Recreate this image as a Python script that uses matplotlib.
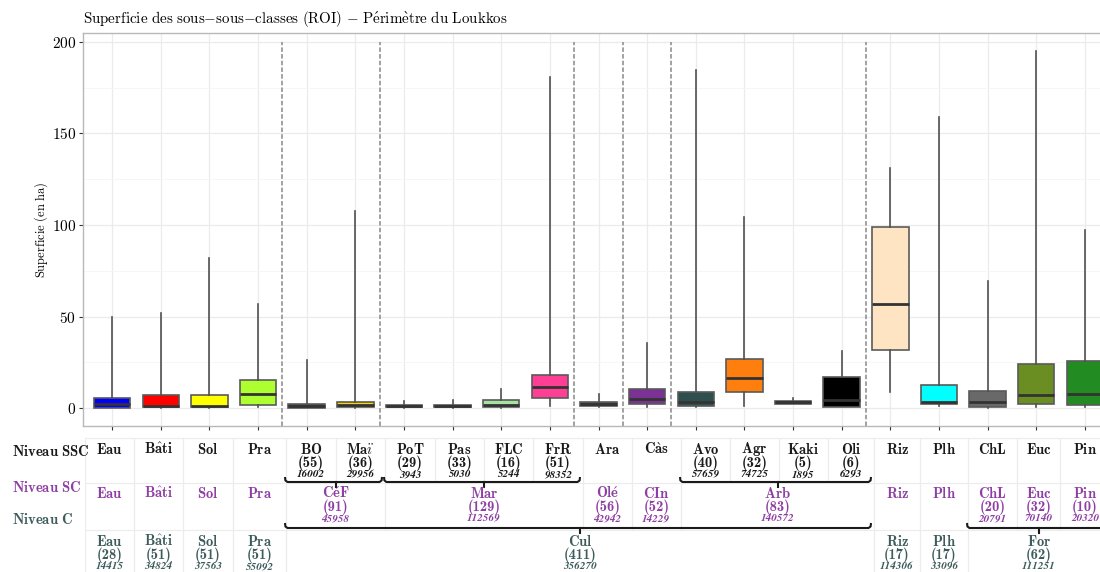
import matplotlib
matplotlib.use("Agg")
import matplotlib.pyplot as plt
from matplotlib.ticker import MultipleLocator

plt.rcParams["mathtext.fontset"] = "cm"

# Sous-sous-classes (SSC), box statistics in ha
ssc_labels = ["Eau", "Bâti", "Sol", "Pra", "BO", "Maï", "PoT", "Pas", "FLC", "FrR", "Ara",
              "Càs", "Avo", "Agr", "Kaki", "Oli", "Riz", "Plh", "ChL", "Euc", "Pin"]
whislo = [0.0, 0.1, 0.1, 0.5, 0.2, 0.1, 0.1, 0.2, 0.3, 1.2, 0.5,
          0.5, 0.7, 1.3, 2.5, 0.5, 8.7, 1.0, 0.3, 0.5, 0.6]
q1 = [0.2, 0.6, 0.5, 1.6, 0.4, 0.5, 0.5, 0.7, 0.8, 5.4, 1.1,
      2.3, 1.5, 8.9, 2.6, 0.7, 31.8, 2.3, 0.7, 2.3, 1.8]
med = [2.6, 1.4, 1.4, 7.6, 1.4, 2.0, 1.0, 1.2, 1.8, 11.8, 2.2,
       5.1, 3.3, 16.7, 3.3, 4.5, 56.9, 3.3, 3.6, 7.1, 7.8]
q3 = [5.4, 7.0, 7.5, 15.4, 2.2, 3.3, 1.6, 1.8, 4.4, 18.0, 3.3,
      10.7, 8.7, 27.0, 4.0, 17.2, 98.7, 12.7, 9.4, 24.2, 25.8]
whishi = [50.0, 52.2, 81.8, 56.7, 26.2, 107.6, 4.1, 4.4, 10.5, 180.9, 7.6,
          35.8, 184.6, 104.2, 5.4, 31.4, 131.3, 158.7, 69.6, 195.1, 97.3]
ssc_colors = ["#0000FF", "#FF0000", "#FFFF00", "#ADFF2F", "#4A3C26", "#FFD700", "#4A3A30",
              "#3C3C3C", "#A6E3A1", "#FF3E96", "#4F4040", "#7B3294", "#2F4F4F", "#FF7F0E",
              "#3C3C3C", "#000000", "#FFE4C4", "#00FFFF", "#696969", "#6B8E23", "#228B22"]
ssc_n = [None, None, None, None, 55, 36, 29, 33, 16, 51, None,
         None, 40, 32, 5, 6, None, None, None, None, None]
ssc_area = [None, None, None, None, 16002, 29956, 3943, 5030, 5244, 98352, None,
            None, 57659, 74725, 1895, 6293, None, None, None, None, None]

# Sous-classes (SC)
sc_labels = ["Eau", "Bâti", "Sol", "Pra", "CéF", "Mar", "Olé", "CIn", "Arb", "Riz", "Plh", "ChL", "Euc", "Pin"]
sc_size = [1, 1, 1, 1, 2, 4, 1, 1, 4, 1, 1, 1, 1, 1]
sc_n = [None, None, None, None, 91, 129, 56, 52, 83, None, None, 20, 32, 10]
sc_area = [None, None, None, None, 45958, 112569, 42942, 14229, 140572, None, None, 20791, 70140, 20320]

# Classes (C)
c_labels = ["Eau", "Bâti", "Sol", "Pra", "Cul", "Riz", "Plh", "For"]
c_size = [1, 1, 1, 1, 12, 1, 1, 3]
c_n = [28, 51, 51, 51, 411, 17, 17, 62]
c_area = [14415, 34824, 37563, 55092, 356270, 114306, 33096, 111251]

W, H = 1100, 572
col_edges = [85, 134, 183, 233, 286, 336, 385, 435, 484, 533, 583, 632, 681, 730,
             779, 828, 874, 920, 968, 1017, 1060, 1110]

COL_SSC = "#1a1a1a"
COL_SC = "#8E3FA3"
COL_C = "#3E5C5C"


def tex(s, style="rm"):
    swap = {"é": r"\acute{e}", "è": r"\grave{e}", "â": r"\hat{a}", "à": r"\grave{a}",
            "ï": r"\ddot{\imath}", " ": r"\ ", "-": "{-}"}
    return r"$\math" + style + "{" + "".join(swap.get(c, c) for c in s) + "}$"


fig = plt.figure(figsize=(W / 100, H / 100), dpi=100)
ax = fig.add_axes([83 / W, 1 - 426 / H, (1114 - 83) / W, (426 - 33.3) / H])

x = list(range(len(ssc_labels)))
stats = [dict(whislo=a, q1=b, med=c, q3=d, whishi=e, fliers=[])
         for a, b, c, d, e in zip(whislo, q1, med, q3, whishi)]
bp = ax.bxp(stats, positions=x, widths=0.75, patch_artist=True, showfliers=False, showcaps=False,
            boxprops=dict(edgecolor="#5a5a5a", linewidth=1.2),
            medianprops=dict(color="#333333", linewidth=2.0),
            whiskerprops=dict(color="#505050", linewidth=1.2), zorder=3)
for patch, col in zip(bp["boxes"], ssc_colors):
    patch.set_facecolor(col)

# dashed separators between the sub-classes around "Cul"
c_of_ssc = [lab for lab, k in zip(c_labels, c_size) for _ in range(k)]
sc_of_ssc = [lab for lab, k in zip(sc_labels, sc_size) for _ in range(k)]
seps = [i + 0.5 for i in range(len(x) - 1)
        if sc_of_ssc[i] != sc_of_ssc[i + 1] and "Cul" in (c_of_ssc[i], c_of_ssc[i + 1])]
ax.vlines(seps, -9.66, 200, colors="#9a9a9a", linestyles=(0, (2.5, 1.2)), linewidth=1.3, zorder=2)

ax.set_xlim(-0.6, len(x) - 0.4)
ax.set_ylim(-9.66, 204.6)
ax.set_xticks(x)
ax.set_xticklabels([])
ax.yaxis.set_minor_locator(MultipleLocator(25))
ax.set_yticks([0, 50, 100, 150, 200])
ax.set_yticklabels([tex(str(v)) for v in [0, 50, 100, 150, 200]], fontsize=11)
ax.grid(which="major", color="#ebebeb", linewidth=0.9, zorder=0)
ax.grid(which="minor", axis="y", color="#f5f5f5", linewidth=0.6, zorder=0)
ax.set_axisbelow(True)
ax.tick_params(axis="both", which="major", length=3, width=0.8, color="#333333", pad=2)
ax.tick_params(axis="y", which="minor", length=0)
for sp in ax.spines.values():
    sp.set_color("#b8b8b8")
    sp.set_linewidth(1.0)
ax.set_ylabel(tex("Superficie (en ha)"), fontsize=9, labelpad=1)
fig.text(83 / W, 1 - 19 / H, tex("Superficie des sous-sous-classes (ROI) - Périmètre du Loukkos"),
         fontsize=10.8, ha="left", va="center")

# table of the hierarchy under the plot, in pixel coordinates
tb = fig.add_axes([0, 0, 1, 1], zorder=-1)
tb.set_xlim(0, W)
tb.set_ylim(H, 0)
tb.axis("off")

row_top = [438, 483, 530]
row_bot = [483, 530, 572]
name_y = [449, 493, 541]
grid_col = "#ececec"


def draw_row(r, labels, sizes, ns, areas, colour, bracket_y=None):
    start = 0
    tb.hlines(row_top[r], col_edges[0], col_edges[-1], color=grid_col, lw=0.8)
    for lab, k, n, a in zip(labels, sizes, ns, areas):
        x0, x1 = col_edges[start], col_edges[start + k]
        xc = (x0 + x1) / 2
        tb.vlines([x0, x1], row_top[r], row_bot[r], color=grid_col, lw=0.8)
        y = name_y[r]
        tb.text(xc, y, tex(lab, "bf"), color=colour, fontsize=10.5, ha="center", va="center")
        if n is not None:
            tb.text(xc, y + 14, "(%d)" % n, color=colour, fontsize=10.5, family="cmb10",
                    ha="center", va="center")
            tb.text(xc, y + 25.5, str(a), color=colour, fontsize=8, family="STIXGeneral",
                    style="italic", weight="bold", ha="center", va="center")
        if bracket_y is not None and k > 1:
            bx0, bx1 = x0 - 1, x1 - 3
            tb.plot([bx0, bx0 + 0.4, bx0 + 2.5, bx1 - 2.5, bx1 - 0.4, bx1],
                    [bracket_y - 5, bracket_y - 1.5, bracket_y, bracket_y, bracket_y - 1.5, bracket_y - 5],
                    color="#1a1a1a", lw=1.5, solid_capstyle="butt")
            tb.plot([xc, xc], [bracket_y, bracket_y + 4.5], color="#1a1a1a", lw=1.5)
        start += k


draw_row(0, ssc_labels, [1] * len(ssc_labels), ssc_n, ssc_area, COL_SSC)
draw_row(1, sc_labels, sc_size, sc_n, sc_area, COL_SC, bracket_y=482)
draw_row(2, c_labels, c_size, c_n, c_area, COL_C, bracket_y=528)

for lab, y, colour in [("Niveau SSC", 451, COL_SSC), ("Niveau SC", 487, COL_SC), ("Niveau C", 520, COL_C)]:
    tb.text(12, y, tex(lab, "bf"), color=colour, fontsize=10.5, ha="left", va="center")

fig.savefig("out.png", dpi=100)
